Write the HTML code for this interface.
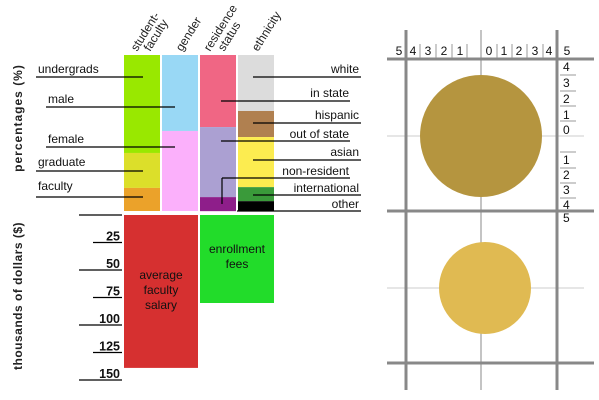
<!DOCTYPE html>
<html><head><meta charset="utf-8"><style>
body{margin:0;background:#fff;width:599px;height:400px;overflow:hidden}
svg{display:block;font-family:"Liberation Sans",sans-serif}
</style></head><body>
<svg id="c" width="599" height="400" xmlns="http://www.w3.org/2000/svg">
<g id="g"></g>
<g font-weight="bold" font-size="12" fill="#222">
<text transform="translate(22,118) rotate(-90)" text-anchor="middle" letter-spacing="1">percentages (%)</text>
<text transform="translate(22,296) rotate(-90)" text-anchor="middle" letter-spacing="0.5">thousands of dollars ($)</text>
</g>
<g font-size="12" fill="#222">
<text transform="translate(137,52) rotate(-58)">student-</text>
<text transform="translate(150,52) rotate(-58)">faculty</text>
<text transform="translate(182,52) rotate(-58)">gender</text>
<text transform="translate(210,52) rotate(-58)">residence</text>
<text transform="translate(224,52) rotate(-58)">status</text>
<text transform="translate(258,52) rotate(-58)">ethnicity</text>
</g>
<g id="r"></g>
</svg>
<script>
const NS='http://www.w3.org/2000/svg';
// stacked percentage data
const sfLabels=['undergrads','graduate','faculty'];
const sfValues=[62.8,22.4,14.8];
const genderLabels=['male','female'];
const genderValues=[48.7,51.3];
const resLabels=['in state','out of state','non-resident'];
const resValues=[46.2,44.9,9.0];
const ethLabels=['white','hispanic','asian','international','other'];
const ethValues=[35.9,16.7,32.1,9.0,6.4];
// money data (thousands)
const moneyLabels=['average faculty salary','enrollment fees'];
const moneyValues=[139,80];
const moneyTicks=[25,50,75,100,125,150];

const g=document.getElementById('g');
function el(tag,attrs,parent){const e=document.createElementNS(NS,tag);for(const k in attrs)e.setAttribute(k,attrs[k]);(parent||g).appendChild(e);return e;}
const top0=55,H=156;
const py=p=>top0+p*H/100;
const my=v=>215+v*1.1;

const cols=[
 {x:124,vals:sfValues,labs:sfLabels,colors:['#99e800','#dcdf2a','#eba22a']},
 {x:162,vals:genderValues,labs:genderLabels,colors:['#99d8f5','#fbb0fb']},
 {x:200,vals:resValues,labs:resLabels,colors:['#f06684','#aba0d2','#8e1e8a']},
 {x:238,vals:ethValues,labs:ethLabels,colors:['#dcdcdc','#b08050','#fcec50','#3a9a3a','#000000']}
];
cols.forEach((c,ci)=>{let acc=0;c.vals.forEach((v,i)=>{
  const r=el('rect',{x:c.x,y:py(acc),width:36,height:py(acc+v)-py(acc),fill:c.colors[i]});
  
  
  acc+=v;});});

function lab(t,x,y,anchor){const e=el('text',{x:x,y:y,'font-size':12,fill:'#111','text-anchor':anchor});e.textContent=t;
 
 return e;}
function ln(x1,y1,x2,y2,name){const e=el('line',{x1:x1,y1:y1,x2:x2,y2:y2,stroke:'#000','stroke-width':1.2});
 
 return e;}
// left labels
lab('undergrads',38,73,'start');ln(36,77,143,77,'leader-undergrads');
lab('male',48,103,'start');ln(46,107,175,107,'leader-male');
lab('female',48,143,'start');ln(46,147,175,147,'leader-female');
lab('graduate',38,166,'start');ln(36,171,143,171,'leader-graduate');
lab('faculty',38,190,'start');ln(36,197,143,197,'leader-faculty');
// right labels
lab('white',359,73,'end');ln(253,77,361,77,'leader-white');
lab('in state',349,97,'end');ln(221,101,350,101,'leader-in-state');
lab('hispanic',359,119,'end');ln(253,123,361,123,'leader-hispanic');
lab('out of state',349,138,'end');ln(221,141,350,141,'leader-out-of-state');
lab('asian',359,156,'end');ln(253,160,361,160,'leader-asian');
lab('non-resident',349,175,'end');ln(222,178,350,178,'leader-non-resident');ln(222,178,222,204,'leader-non-resident-drop');
lab('international',359,192,'end');ln(253,195,361,195,'leader-international');
lab('other',359,208,'end');ln(237,211,361,211,'leader-other');

// money bars
const mc=['#d63030','#22dc2a'];const mx=[124,200];const mw=[74,74];
moneyValues.forEach((v,i)=>{
 const r=el('rect',{x:mx[i],y:215,width:mw[i],height:my(v)-215,fill:mc[i]});
 
 
});
[['average','faculty','salary'],['enrollment','fees']].forEach((ls,i)=>{
 const cx=mx[i]+mw[i]/2;const y0=i==0?279:253;
 ls.forEach((t,j)=>{const e=el('text',{x:cx,y:y0+15*j,'font-size':12,fill:'#111','text-anchor':'middle'});e.textContent=t;
 
 });
});
ln(79,215,122,215,'money-axis-tick-0');
moneyTicks.forEach((v,i)=>{
 const y=my(v);const long=(i%2==1);
 ln(long?79:93,y,122,y,'money-axis-tick-'+v);
 const t=el('text',{x:120,y:y-2,'font-size':12.5,'font-weight':'bold',fill:'#111','text-anchor':'end'});t.textContent=v;
 
 
});

// right panel
const R=document.getElementById('r');
function rl(x1,y1,x2,y2,c,w,name){const e=el('line',{x1:x1,y1:y1,x2:x2,y2:y2,stroke:c,'stroke-width':w},R);
 
 }
rl(387,136,584,136,'#ccc',1,'h-center-top');rl(387,288,584,288,'#ccc',1,'h-center-bottom');
rl(481,30,481,390,'#888',1,'v-center');
const c1=el('circle',{cx:481,cy:136,r:61,fill:'#b5953f'},R);


const c2=el('circle',{cx:485,cy:288,r:46,fill:'#e0ba52'},R);


rl(406,30,406,390,'#888',3,'v-left');rl(557,30,557,390,'#888',3,'v-right');
rl(387,59,594,59,'#888',3,'h-top');rl(387,211,594,211,'#888',3,'h-mid');rl(387,363,594,363,'#888',3,'h-bottom');
const topLabs=[['5',399],['4',413],['3',428],['2',444],['1',460],['0',489],['1',504],['2',519],['3',535],['4',549],['5',567]];
topLabs.forEach((l,i)=>{const t=el('text',{x:l[1],y:55,'font-size':12,fill:'#111','text-anchor':'middle'},R);t.textContent=l[0];
 
 });
[420,436,452,467,497,512,527,543].forEach(x=>rl(x,44,x,58,'#999',1,'top-scale-sep'));
const rightLabs=[['4',71],['3',87],['2',103],['1',119],['0',134],['1',164],['2',179],['3',194],['4',209],['5',222]];
rightLabs.forEach(l=>{const t=el('text',{x:563,y:l[1],'font-size':12,fill:'#111'},R);t.textContent=l[0];
 
 });
[75,91,106,121,152,168,183,198].forEach(y=>rl(560,y,576,y,'#999',1,'right-scale-sep'));
</script>
</body></html>
